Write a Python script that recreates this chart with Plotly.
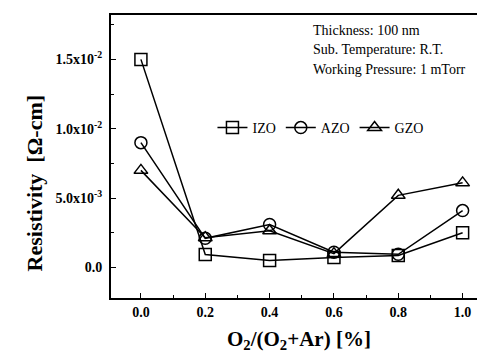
import plotly.graph_objects as go

x_vals = [0.0, 0.2, 0.4, 0.6, 0.8, 1.0]
izo = [15.0e-3, 0.93e-3, 0.5e-3, 0.72e-3, 0.86e-3, 2.5e-3]
azo = [9.0e-3, 2.1e-3, 3.1e-3, 1.1e-3, 0.95e-3, 4.1e-3]
gzo = [7.0e-3, 2.15e-3, 2.65e-3, 1.0e-3, 5.2e-3, 6.1e-3]
series_names = ["IZO", "AZO", "GZO"]
y_tickvals = [0.0, 5.0e-3, 1.0e-2, 1.5e-2]
y_ticktext = ["0.0", "5.0x10<sup>-3</sup>", "1.0x10<sup>-2</sup>", "1.5x10<sup>-2</sup>"]
x_tickvals = [0.0, 0.2, 0.4, 0.6, 0.8, 1.0]
x_ticktext = ["0.0", "0.2", "0.4", "0.6", "0.8", "1.0"]
notes = ["Thickness: 100 nm", "Sub. Temperature: R.T.", "Working Pressure: 1 mTorr"]

FONT = "Liberation Serif"
symbols = ["square-open", "circle-open", "triangle-up-open"]
fig = go.Figure()
for name, ys, sym in zip(series_names, [izo, azo, gzo], symbols):
    fig.add_trace(go.Scatter(
        x=x_vals, y=ys, name=name, mode="lines+markers",
        line=dict(color="black", width=1.5),
        marker=dict(symbol=sym, size=12, color="black", line=dict(width=1.5, color="black")),
    ))

axis_common = dict(
    showline=True, linecolor="black", linewidth=2, mirror=True,
    ticks="inside", ticklen=5, tickwidth=1.2, tickcolor="black",
    showgrid=False, zeroline=False,
    tickfont=dict(family=FONT, size=14, color="black", weight="bold"),
)
fig.update_xaxes(range=[-0.093, 1.082], tickvals=x_tickvals, ticktext=x_ticktext,
                 minor=dict(ticks="inside", ticklen=3, tickcolor="black", dtick=0.1, tick0=0),
                 **axis_common)
fig.update_yaxes(range=[-2.2e-3, 18.2e-3], tickvals=y_tickvals, ticktext=y_ticktext,
                 minor=dict(ticks="inside", ticklen=3, tickcolor="black", dtick=2.5e-3, tick0=0),
                 ticklabelstandoff=4,
                 **axis_common)

annotations = []
for i, t in enumerate(notes):
    annotations.append(dict(text=t, xref="paper", yref="paper", x=(304 - 103) / 380,
                            y=(290 - (22 + i * 19.5)) / 283, xanchor="left", yanchor="middle",
                            showarrow=False, font=dict(family=FONT, size=14, color="black")))
annotations.append(dict(text="Resistivity  [Ω-cm]", xref="paper", yref="paper",
                        x=-(103 - 26) / 380, y=(290 - 175) / 283, textangle=-90,
                        xanchor="center", yanchor="middle", showarrow=False,
                        font=dict(family=FONT, size=22, color="black", weight="bold")))
annotations.append(dict(text="O<sub>2</sub>/(O<sub>2</sub>+Ar) [%]", xref="paper", yref="paper",
                        x=(292 - 103) / 380, y=-(332 - 290) / 283,
                        xanchor="center", yanchor="middle", showarrow=False,
                        font=dict(family=FONT, size=21, color="black", weight="bold")))

fig.update_layout(
    width=485, height=356,
    margin=dict(l=103, r=2, t=7, b=66),
    plot_bgcolor="white", paper_bgcolor="white",
    showlegend=True,
    legend=dict(orientation="h", x=(205 - 103) / 380, y=(290 - 120) / 283,
                xanchor="left", yanchor="middle", bgcolor="rgba(0,0,0,0)",
                font=dict(family=FONT, size=14, color="black"),
                itemwidth=30, tracegroupgap=0),
    annotations=annotations,
)
fig.write_html("out.html")
